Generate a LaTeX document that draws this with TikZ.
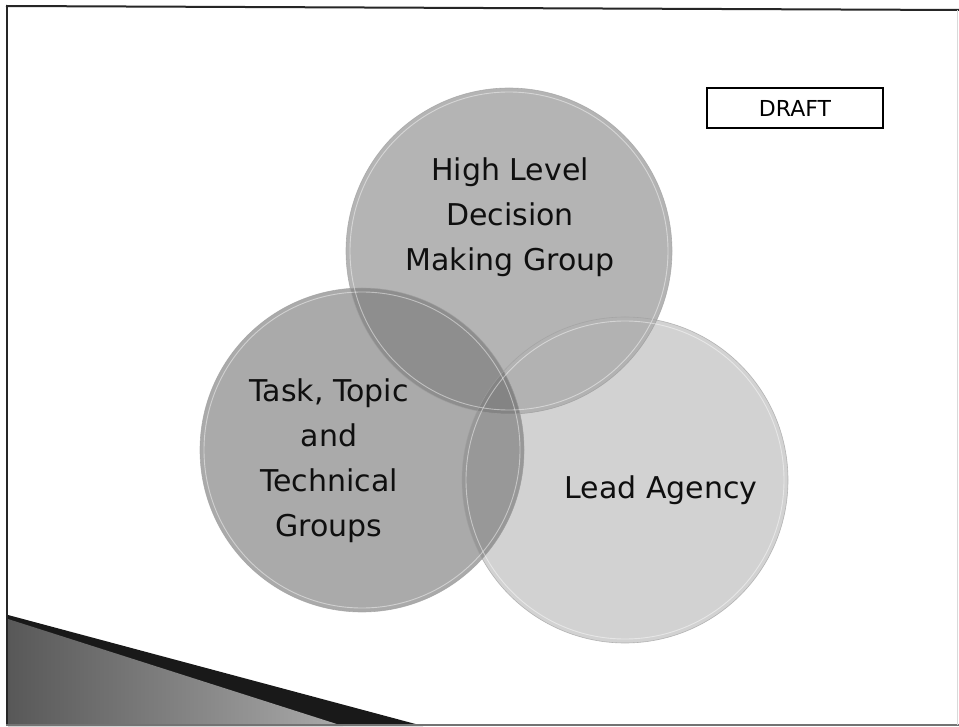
\documentclass[tikz,border=0pt]{standalone}
\usepackage{fontspec}
\setmainfont{DejaVu Sans}
\definecolor{topc}{RGB}{180,180,180}
\definecolor{leftc}{RGB}{170,170,170}
\definecolor{rightc}{RGB}{210,210,210}
\definecolor{tlc}{RGB}{142,142,142}
\definecolor{lrc}{RGB}{152,152,152}
\definecolor{trc}{RGB}{178,178,178}
\definecolor{triplec}{RGB}{132,132,132}
\definecolor{rimc}{RGB}{160,160,160}
\definecolor{txtc}{RGB}{15,15,15}
\definecolor{wedgedark}{RGB}{88,88,88}
\definecolor{wedgelight}{RGB}{170,170,170}
\tikzset{
  venn/.style={circle, minimum size=#1, inner sep=0pt},
  rim/.style={draw=rimc, line width=0.6pt, draw opacity=0.7},
  glint/.style={draw=white, draw opacity=0.45, line width=0.9pt},
  lbl/.style={font=\fontsize{30}{45}\selectfont, text=txtc, align=center},
  draftbox/.style={draw=black, line width=1.2pt, minimum width=176pt, minimum height=40pt, inner sep=0pt, font=\fontsize{22}{26}\selectfont},
}
\begin{document}
\begin{tikzpicture}[x=1pt,y=-1pt]
\useasboundingbox (0,0) rectangle (959,727);
\fill[white] (0,0) rectangle (959,727);
% bottom-left wedge
\fill[black!90] (8,615) -- (423,726) -- (8,726) -- cycle;
\shade[left color=wedgedark, right color=wedgelight] (8,619) -- (343,726) -- (8,726) -- cycle;
% circles
\node[venn=326pt, fill=rightc] (lead) at (625,480) {};
\node[venn=326pt, fill=topc] (high) at (509,251) {};
\node[venn=324pt, fill=leftc] (task) at (362,450) {};
% overlaps
\begin{scope}
  \clip (509,251) circle (163);
  \fill[trc] (625,480) circle (163);
\end{scope}
\begin{scope}
  \clip (362,450) circle (162);
  \fill[lrc] (625,480) circle (163);
\end{scope}
\begin{scope}
  \clip (362,450) circle (162);
  \fill[tlc] (509,251) circle (163);
\end{scope}
\begin{scope}
  \clip (362,450) circle (162);
  \clip (509,251) circle (163);
  \fill[triplec] (625,480) circle (163);
\end{scope}
% rims
\draw[rim] (lead.center) circle (163);
\draw[rim] (high.center) circle (163);
\draw[rim] (task.center) circle (162);
\draw[glint] (lead.center) circle (159);
\draw[glint] (high.center) circle (159);
\draw[glint] (task.center) circle (158);
% labels
\node[lbl] (highlbl) at (510,217) {High Level\\Decision\\Making Group};
\node[lbl] (tasklbl) at (329,461) {Task, Topic\\and\\Technical\\Groups};
\node[lbl] (leadlbl) at (661,490) {Lead Agency};
% draft box
\node[draftbox] (draft) at (795,108) {DRAFT};
% frame
\draw[black!85, line width=2pt] (6,6) -- (959,10);
\draw[black!85, line width=2pt] (7,5) -- (7,726);
\draw[black!55, line width=2pt] (6,725) -- (959,725);
\draw[black!15, line width=0.8pt] (957,10) -- (957,725);
\end{tikzpicture}
\end{document}
